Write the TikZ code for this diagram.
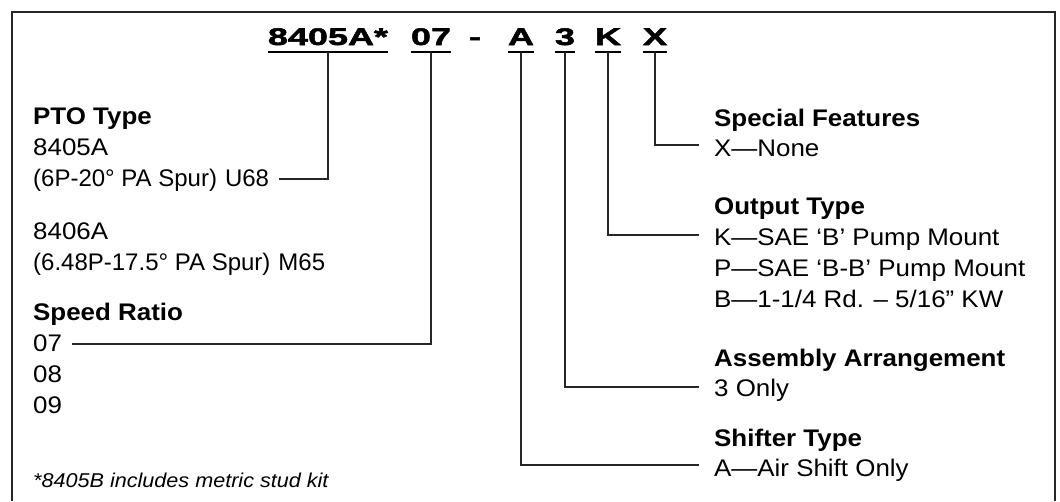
\documentclass[tikz,border=0pt]{standalone}
\usepackage{fontspec}
\setmainfont{Liberation Sans}[FakeStretch=1.08]
\newfontfamily\narrowfont{Liberation Sans}
\newfontfamily\codefont{Liberation Sans Bold}[FakeStretch=1.5,FakeBold=2.2]
\usetikzlibrary{calc}
\tikzset{
  txt/.style={anchor=base west, inner sep=0pt, font=\fontsize{24}{28}\selectfont},
  txtn/.style={anchor=base west, inner sep=0pt, font=\fontsize{24}{28}\selectfont\narrowfont},
  ttl/.style={anchor=base west, inner sep=0pt, font=\fontsize{24}{28}\selectfont\bfseries},
  note/.style={anchor=base west, inner sep=0pt, font=\fontsize{20}{24}\selectfont\itshape},
  code/.style={anchor=base, inner sep=0pt, font=\fontsize{24}{28}\selectfont\codefont},
  conn/.style={line width=1.7pt, draw=black!85},
  uline/.style={line width=1.8pt, draw=black},
  frame/.style={line width=2.8pt, draw=black!85}
}
\begin{document}
\begin{tikzpicture}[x=1pt,y=-1pt]
\useasboundingbox (0,0) rectangle (1060,501);
\draw[frame] (12,501) -- (12,12) -- (1055,12) -- (1055,501);

% code row
\node[code] (c1) at (328,45) {8405A*};
\node[code] (c2) at (431,45) {07};
\node[code] (c3) at (475,45) {-};
\node[code] (c4) at (521,45) {A};
\node[code] (c5) at (565,45) {3};
\node[code] (c6) at (608,45) {K};
\node[code] (c7) at (655,45) {X};
\foreach \n in {c1,c2,c4,c5,c6,c7}
  \draw[uline] ($(\n.base west)+(0,7)$) -- ($(\n.base east)+(0,7)$);

% left column
\node[ttl] (pto) at (33,124) {PTO Type};
\node[txt] (pto1a) at (33,155) {8405A};
\node[txtn] (pto1b) at (33,186) {(6P-20° PA Spur)\hspace{8pt}U68};
\node[txt] (pto2a) at (33,239) {8406A};
\node[txtn] (pto2b) at (33,270) {(6.48P-17.5° PA Spur)\hspace{8pt}M65};
\node[ttl] (sr) at (33,320) {Speed Ratio};
\node[txt] (sr1) at (33,351) {07};
\node[txt] (sr2) at (33,382) {08};
\node[txt] (sr3) at (33,413) {09};
\node[note] (fn) at (33,487) {*8405B includes metric stud kit};

% right column
\node[ttl] (sf) at (714,126) {Special Features};
\node[txt] (sf1) at (714,156) {X—None};
\node[ttl] (ot) at (714,214) {Output Type};
\node[txt] (ot1) at (714,245) {K—SAE ‘B’ Pump Mount};
\node[txt] (ot2) at (714,276) {P—SAE ‘B-B’ Pump Mount};
\node[txt] (ot3) at (714,307) {B—1-1/4 Rd. – 5/16” KW};
\node[ttl] (aa) at (714,366) {Assembly Arrangement};
\node[txt] (aa1) at (714,396) {3 Only};
\node[ttl] (sh) at (714,446) {Shifter Type};
\node[txt] (sh1) at (714,476) {A—Air Shift Only};

% connector end points
\coordinate (e1) at ($(pto1b.base east)+(10,-7)$);
\coordinate (e2) at ($(sr1.base east)+(10,-7)$);
\coordinate (e4) at ($(sh1.base west)+(-15,-11)$);
\coordinate (e5) at ($(aa1.base west)+(-15,-9)$);
\coordinate (e6) at ($(ot1.base west)+(-15,-10)$);
\coordinate (e7) at ($(sf1.base west)+(-15,-11)$);

% connectors
\draw[conn] ($(c1.base)+(0,7)$) |- (e1);
\draw[conn] ($(c2.base)+(0,7)$) |- (e2);
\draw[conn] ($(c4.base)+(0,7)$) |- (e4);
\draw[conn] ($(c5.base)+(0,7)$) |- (e5);
\draw[conn] ($(c6.base)+(0,7)$) |- (e6);
\draw[conn] ($(c7.base)+(0,7)$) |- (e7);
\end{tikzpicture}
\end{document}
